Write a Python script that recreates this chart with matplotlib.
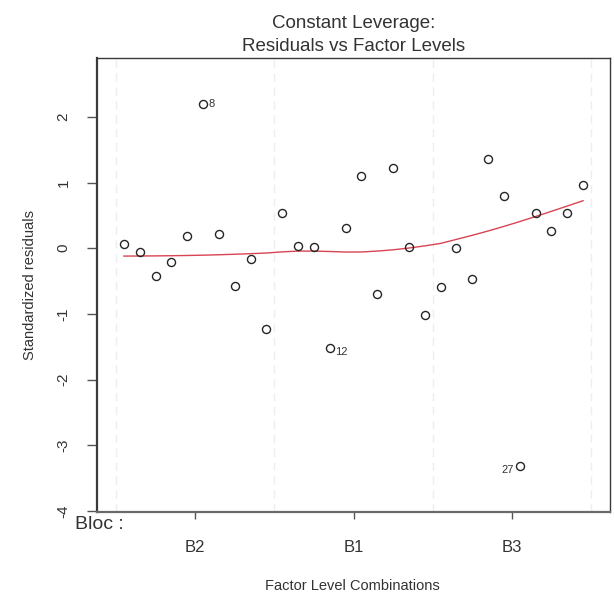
import numpy as np
import matplotlib
matplotlib.use('Agg')
import matplotlib.pyplot as plt

plt.rcParams['font.family'] = ['Liberation Sans', 'DejaVu Sans']

# standardized residuals, ordered by block level (10 runs per block)
block_levels = ['B2', 'B1', 'B3']
runs_per_block = 10
std_resid = [0.07, -0.06, -0.43, -0.21, 0.18, 2.20, 0.21, -0.57, -0.16, -1.23,
             0.53, 0.03, 0.02, -1.52, 0.31, 1.10, -0.69, 1.22, 0.02, -1.01,
             -0.59, 0.00, -0.47, 1.36, 0.79, -3.32, 0.53, 0.26, 0.53, 0.96]
# observation numbers of the three largest residuals
obs_id = {6: '8', 14: '12', 26: '27'}


def lowess(x, y, f=2 / 3, iters=3):
    # same smoother as R's lowess()
    n = len(x)
    ns = max(2, min(n, int(f * n + 1e-7)))
    rw = np.ones(n)
    fit = np.zeros(n)
    for it in range(iters + 1):
        for i in range(n):
            d = np.abs(x - x[i])
            h = np.sort(d)[ns - 1]
            w = np.where(d <= 0.999 * h, (1 - (d / h) ** 3) ** 3, 0.0)
            w = w * rw
            sw = w.sum()
            xm = (w * x).sum() / sw
            ym = (w * y).sum() / sw
            sxx = (w * (x - xm) ** 2).sum()
            b = (w * (x - xm) * (y - ym)).sum() / sxx if sxx > 0 else 0.0
            fit[i] = ym + b * (x[i] - xm)
        if it == iters:
            break
        res = y - fit
        cmad = 6 * np.median(np.abs(res))
        r = np.abs(res) / cmad
        rw = np.where(r < 1, (1 - r ** 2) ** 2, 0.0)
    return fit


y = np.array(std_resid)
x = np.arange(1, len(y) + 1, dtype=float)
nlev = len(block_levels)

# R style limits: x from block edges, y range widened by 8% then 4%
x0, x1 = 0.5, nlev * runs_per_block + 0.5
xpad = 0.04 * (x1 - x0)
ylo, yhi = y.min(), y.max()
ylo, yhi = ylo - 0.08 * (yhi - ylo), yhi + 0.08 * (yhi - ylo)
ypad = 0.04 * (yhi - ylo)

fig = plt.figure(figsize=(6.14, 5.98), dpi=100)
ax = fig.add_axes([97 / 614, 1 - 512 / 598, (610 - 97) / 614, (512 - 58) / 598])

# faint block separators
for v in np.arange(nlev + 1) * runs_per_block + 0.5:
    ax.axvline(v, color='#eceef3', lw=1, ls=(0, (6, 4)), zorder=0)

ax.plot(x, lowess(x, y), color='#d94452', lw=1.0, zorder=2)
ax.plot(x, y, ls='none', marker='o', ms=5.8, mfc='none', mec='#262626', mew=1.0, zorder=3)

for i, lab in obs_id.items():
    if x[i - 1] < (x0 + x1) / 2:
        ax.annotate(lab, (x[i - 1], y[i - 1]), xytext=(4, 0 if i == 6 else -3),
                    textcoords='offset points', ha='left', va='center',
                    fontsize=8, color='#333333')
    else:
        ax.annotate(lab, (x[i - 1], y[i - 1]), xytext=(-4, -3),
                    textcoords='offset points', ha='right', va='center',
                    fontsize=8, color='#333333')

ax.set_xlim(x0 - xpad, x1 + xpad)
ax.set_ylim(ylo - ypad, yhi + ypad)

centers = (np.arange(nlev) + 0.5) * runs_per_block + 0.5
ax.set_xticks(centers)
ax.set_xticklabels(block_levels, fontsize=12, color='#333333')
ax.set_yticks(np.arange(-4, 3))
ax.set_yticklabels([str(t) for t in range(-4, 3)], fontsize=11,
                   rotation=90, va='center', color='#333333')
ax.tick_params(axis='x', length=5, width=1, pad=15, color='#555555')
ax.tick_params(axis='y', length=7, width=1, pad=12, color='#555555')

for s in ax.spines.values():
    s.set_color('#3a3a3a')
    s.set_linewidth(1.0)
ax.spines['bottom'].set_color('#6a6a6a')
ax.spines['bottom'].set_linewidth(1.6)
ax.spines['left'].set_linewidth(1.6)

ax.text(-0.043, -0.008, 'Bloc :', transform=ax.transAxes, ha='left', va='top',
        fontsize=14, color='#333333')

ax.set_title('Constant Leverage:\nResiduals vs Factor Levels', fontsize=13.5,
             color='#333333', pad=5, linespacing=1.45)
fig.text(352 / 614, 1 - 586 / 598, 'Factor Level Combinations', ha='center',
         va='center', fontsize=10.5, color='#333333')
fig.text(30 / 614, 1 - 285 / 598, 'Standardized residuals', ha='center',
         va='center', rotation=90, fontsize=10.5, color='#333333')

fig.savefig('out.png', dpi=100)
